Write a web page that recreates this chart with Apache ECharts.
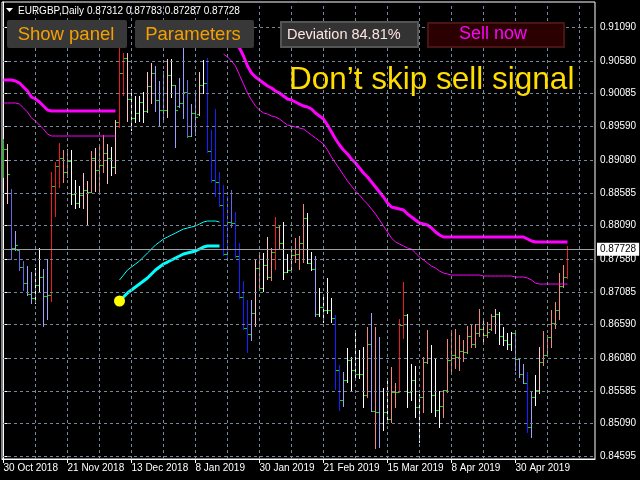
<!DOCTYPE html>
<html><head><meta charset="utf-8">
<script src="https://cdn.jsdelivr.net/npm/echarts@6/dist/echarts.min.js"></script>
<style>html,body{margin:0;padding:0;background:#000;}#c{width:640px;height:480px;}</style>
</head><body><div id="c"></div>
<script>
const symbolName = 'EURGBP,Daily';
const lastOHLC = [0.87312, 0.87783, 0.87287, 0.87728];
const lastPrice = 0.87728;
const dateLabels = ['30 Oct 2018','21 Nov 2018','13 Dec 2018','8 Jan 2019','30 Jan 2019','21 Feb 2019','15 Mar 2019','8 Apr 2019','30 Apr 2019'];
const dateLabelBars = [0,16,32,48,64,80,96,112,128];
const gridBars = [8,16,24,32,40,48,56,64,72,80,88,96,104,112,120,128,136,144];
const priceTicks = [0.91090,0.90580,0.90085,0.89590,0.89080,0.88585,0.88090,0.87580,0.87085,0.86590,0.86080,0.85585,0.85090,0.84595];

const barColors = [
'G','P','M','L','M','M','L','L','W','W',
'L','L','R','R','R','S','S','W','W','W',
'P','P','S','P','S','S','P','W','P','R',
'R','P','W','W','W','W','P','P','L','L',
'L','P','W','L','L','L','M','L','L','P',
'W','B','B','B','B','B','B','M','B','B',
'B','B','L','P','S','W','P','S','R','S',
'W','W','P','S','S','S','W','W','L','W',
'W','W','W','B','B','L','W','W','W','W',
'W','S','L','S','L','W','W','S','S','R',
'R','W','W','W','W','S','S','W','W','W',
'S','S','S','S','S','S','S','S','S','S',
'P','S','S','P','W','W','W','W','L','L',
'L','B','L','W','P','S','S','S','S','S',
'S','R'];

const openPrices = [
0.89100,0.89247,0.88581,0.87748,0.87718,0.87460,0.87219,0.87051,0.86991,0.87188,
0.87309,0.87021,0.87036,0.88687,0.88990,0.89111,0.88899,0.89066,0.88566,0.88430,
0.88551,0.88627,0.88596,0.89111,0.88929,0.89005,0.89187,0.89111,0.88975,0.89656,
0.90398,0.90625,0.90004,0.89716,0.89792,0.89959,0.89823,0.90201,0.90398,0.89989,
0.89838,0.89838,0.90367,0.90216,0.89900,0.89944,0.90110,0.89444,0.89792,0.89780,
0.90216,0.90246,0.89217,0.88778,0.88748,0.88399,0.87658,0.88142,0.88127,0.87627,
0.87006,0.86537,0.86446,0.86764,0.87445,0.87142,0.87491,0.87309,0.87688,0.88066,
0.87824,0.87385,0.87415,0.87642,0.87658,0.87824,0.88203,0.87521,0.87430,0.86749,
0.86855,0.86810,0.86810,0.86688,0.85901,0.85447,0.85750,0.86053,0.85901,0.85840,
0.85840,0.85522,0.86295,0.85280,0.85265,0.85099,0.85265,0.85159,0.85568,0.85568,
0.86582,0.86734,0.85568,0.85750,0.85341,0.85493,0.86023,0.86083,0.85522,0.85296,
0.85356,0.85598,0.86053,0.86128,0.86098,0.86189,0.86174,0.86416,0.86295,0.86461,
0.86522,0.86431,0.86520,0.86719,0.86749,0.86416,0.86355,0.86295,0.86461,0.86068,
0.85840,0.85704,0.85038,0.85493,0.85598,0.86023,0.86128,0.86401,0.86613,0.86810,
0.87173,0.87312];

const highPrices = [
0.89398,0.89322,0.88642,0.88006,0.87733,0.87552,0.87476,0.87385,0.87445,0.87748,
0.87430,0.87582,0.88899,0.89051,0.89338,0.89232,0.89247,0.89232,0.88778,0.88687,
0.88884,0.88763,0.89217,0.89262,0.89277,0.89459,0.89322,0.89277,0.89686,0.90821,
0.90701,0.90701,0.90156,0.90050,0.90050,0.90110,0.90413,0.90549,0.90504,0.90277,
0.90428,0.90610,0.90610,0.90216,0.90322,0.90791,0.90292,0.89928,0.90080,0.90413,
0.90595,0.90625,0.89535,0.89853,0.88899,0.88703,0.88536,0.88627,0.88293,0.87824,
0.87249,0.86961,0.86961,0.87567,0.87658,0.87673,0.87915,0.87748,0.88218,0.88097,
0.88142,0.87658,0.87763,0.87900,0.87930,0.88414,0.88278,0.87688,0.87627,0.87142,
0.87036,0.87294,0.86991,0.86734,0.85977,0.85871,0.86234,0.86098,0.86461,0.86204,
0.86249,0.86552,0.86764,0.86552,0.86401,0.85629,0.85750,0.85947,0.85704,0.86673,
0.87233,0.86749,0.85992,0.85962,0.85538,0.86098,0.86507,0.86280,0.86083,0.85583,
0.85598,0.86370,0.86461,0.86522,0.86431,0.86355,0.86567,0.86582,0.86598,0.86825,
0.86688,0.86628,0.86749,0.86825,0.86779,0.86552,0.86461,0.86477,0.86507,0.86068,
0.85992,0.85871,0.85568,0.85826,0.86249,0.86492,0.86431,0.86810,0.86931,0.87370,
0.87491,0.87783];

const lowPrices = [
0.88823,0.88430,0.87582,0.87718,0.87415,0.87112,0.87036,0.86916,0.86916,0.87082,
0.86567,0.86673,0.86946,0.88233,0.88672,0.88748,0.88823,0.88414,0.88354,0.88369,
0.88354,0.88097,0.88596,0.88612,0.88596,0.88899,0.88733,0.88853,0.88884,0.89580,
0.90064,0.89671,0.89535,0.89656,0.89671,0.89656,0.89807,0.89944,0.89823,0.89610,
0.89656,0.89732,0.90034,0.89277,0.89883,0.89716,0.89429,0.89444,0.89459,0.89762,
0.90095,0.89202,0.88748,0.88536,0.88384,0.87642,0.87567,0.88066,0.87612,0.86991,
0.86522,0.86173,0.86355,0.86567,0.87127,0.87097,0.87279,0.87264,0.87430,0.87733,
0.87279,0.87385,0.87415,0.87536,0.87430,0.87536,0.87521,0.87415,0.86719,0.86719,
0.86628,0.86764,0.86628,0.85613,0.85296,0.85356,0.85719,0.85583,0.85795,0.85780,
0.85341,0.85492,0.85280,0.84720,0.84735,0.84993,0.85144,0.85114,0.85341,0.85568,
0.86386,0.85341,0.85447,0.85190,0.84811,0.85265,0.86007,0.85265,0.85205,0.85038,
0.85190,0.85568,0.85840,0.85931,0.85901,0.86037,0.86158,0.86249,0.86249,0.86416,
0.86340,0.86401,0.86507,0.86461,0.86295,0.86280,0.86219,0.86204,0.85901,0.85795,
0.85704,0.84962,0.84887,0.85372,0.85553,0.85977,0.86128,0.86249,0.86537,0.86673,
0.87158,0.87287];

const closePrices = [
0.89247,0.88868,0.87748,0.87794,0.87460,0.87219,0.87051,0.86991,0.87188,0.87309,
0.87021,0.87036,0.88687,0.88990,0.89111,0.88899,0.89066,0.88566,0.88430,0.88551,
0.88627,0.88596,0.89111,0.88929,0.89005,0.89187,0.89111,0.88975,0.89656,0.90398,
0.90625,0.90004,0.89716,0.89792,0.89959,0.89823,0.90201,0.90398,0.89989,0.89838,
0.89838,0.90367,0.90216,0.89838,0.89944,0.90110,0.89444,0.89792,0.89732,0.90216,
0.90246,0.89217,0.88778,0.88748,0.88399,0.87658,0.88142,0.88127,0.87627,0.87006,
0.86537,0.86446,0.86764,0.87445,0.87142,0.87491,0.87309,0.87688,0.88066,0.87824,
0.87385,0.87415,0.87642,0.87658,0.87824,0.88203,0.87521,0.87430,0.86749,0.86855,
0.86810,0.86810,0.86688,0.85901,0.85447,0.85750,0.86053,0.85901,0.85840,0.85840,
0.85522,0.86295,0.85280,0.85265,0.85099,0.85265,0.85159,0.85568,0.85568,0.86582,
0.86734,0.85568,0.85750,0.85341,0.85493,0.86023,0.86083,0.85522,0.85296,0.85356,
0.85598,0.86053,0.86128,0.86098,0.86189,0.86174,0.86416,0.86295,0.86461,0.86522,
0.86431,0.86477,0.86719,0.86749,0.86416,0.86355,0.86295,0.86461,0.86068,0.85840,
0.85704,0.85038,0.85493,0.85598,0.86023,0.86128,0.86401,0.86613,0.86810,0.87173,
0.87312,0.87728];

const upperBand1Start = 0;
const upperBand1 = [0.90292,0.90292,0.90292,0.90277,0.90246,0.90186,0.90125,0.90034,0.90004,0.89959,
0.89898,0.89838,0.89823,0.89823,0.89823,0.89823,0.89823,0.89823,0.89823,0.89823,
0.89823,0.89823,0.89823,0.89823,0.89823,0.89823,0.89823,0.89823,0.89823];
const lowerBand1 = [0.89944,0.89944,0.89944,0.89944,0.89928,0.89868,0.89807,0.89716,0.89671,0.89610,
0.89550,0.89474,0.89444,0.89444,0.89444,0.89444,0.89444,0.89444,0.89444,0.89444,
0.89444,0.89444,0.89444,0.89444,0.89444,0.89444,0.89444,0.89444,0.89444];

const upperBand2Start = 55;
const upperBand2 = [
0.91049,0.90988,0.90913,0.90837,0.90776,0.90655,0.90504,0.90398,0.90337,0.90292,
0.90246,0.90201,0.90171,0.90125,0.90095,0.90050,0.90004,0.89989,0.89959,0.89928,
0.89898,0.89883,0.89853,0.89792,0.89747,0.89701,0.89610,0.89505,0.89399,0.89308,
0.89232,0.89172,0.89096,0.89035,0.88960,0.88884,0.88823,0.88748,0.88672,0.88596,
0.88521,0.88430,0.88369,0.88354,0.88339,0.88324,0.88263,0.88218,0.88172,0.88127,
0.88112,0.88097,0.88051,0.87990,0.87945,
0.87915,0.87915,0.87915,0.87915,0.87915,0.87915,0.87915,0.87915,0.87915,0.87915,
0.87915,0.87915,0.87915,0.87915,0.87915,0.87915,0.87915,0.87915,0.87915,0.87915,0.87915,
0.87885,0.87854,
0.87839,0.87839,0.87839,0.87839,0.87839,0.87839,0.87839,0.87839,0.87839];
const lowerBand2 = [
0.90685,0.90640,0.90579,0.90504,0.90367,0.90231,0.90095,0.89989,0.89898,0.89838,
0.89792,0.89777,0.89747,0.89732,0.89701,0.89656,0.89610,0.89595,0.89580,0.89565,
0.89550,0.89505,0.89459,0.89414,0.89368,0.89323,0.89232,0.89126,0.89035,0.88944,
0.88854,0.88763,0.88687,0.88611,0.88551,0.88475,0.88414,0.88339,0.88263,0.88172,
0.88081,0.87990,0.87900,0.87839,0.87809,0.87779,0.87748,0.87733,0.87673,0.87612,
0.87567,0.87521,0.87476,0.87445,0.87400,0.87370,0.87355,
0.87339,0.87339,0.87339,0.87339,0.87339,0.87339,0.87339,0.87339,
0.87324,0.87324,0.87324,0.87324,0.87324,0.87324,0.87324,0.87324,
0.87309,0.87309,0.87309,0.87294,0.87264,0.87218,
0.87203,0.87203,0.87203,0.87203,0.87203,0.87203,0.87203,0.87203];

const signalStart = 29;
const signalThick = [0.86946,0.87006,0.87067,0.87112,0.87158,0.87203,0.87249,0.87294,0.87355,0.87415,
0.87461,0.87506,0.87536,0.87567,0.87597,0.87627,0.87658,0.87673,0.87688,0.87703,
0.87733,0.87763,0.87779,0.87779,0.87779,0.87779];
const signalThin = [0.87264,0.87339,0.87415,0.87461,0.87506,0.87551,0.87612,0.87673,0.87733,0.87794,
0.87839,0.87885,0.87915,0.87945,0.87975,0.88006,0.88036,0.88051,0.88066,0.88081,
0.88112,0.88142,0.88157,0.88157,0.88157,0.88142];
const signalDotBar = 29;
const signalDotPrice = 0.86946;

const deviationText = 'Deviation 84.81%';
const signalText = 'Don\u2019t skip sell signal';

const colorMap = {G:'#18d018', R:'#ee1c1c', S:'#f4887c', P:'#ffc4c4', W:'#ffffff', L:'#a0a0ff', M:'#6464ec', B:'#1420ff'};
const FONT = 'Liberation Sans';

const ohlcItems = openPrices.map((o, i) => ({
  value: [i, o, highPrices[i], lowPrices[i], closePrices[i]],
  itemStyle: {color: colorMap[barColors[i]]}
}));
const seg = (start, arr) => arr.map((v, k) => [start + k, v]);

const chart = echarts.init(document.getElementById('c'), null, {renderer: 'canvas'});

const gridLineStyle = {color: '#778899', type: [3, 3], width: 1};

const option = {
  backgroundColor: '#000000',
  animation: false,
  grid: {left: 2, top: 2, width: 593, height: 457, show: true, borderColor: '#ffffff', borderWidth: 1, backgroundColor: '#000000'},
  xAxis: {
    type: 'value', min: -0.375, max: 147.875,
    axisLine: {show: true, lineStyle: {color: '#ffffff'}},
    axisTick: {show: true, length: 4, lineStyle: {color: '#ffffff'}, customValues: dateLabelBars},
    axisLabel: {show: true, customValues: dateLabelBars, color: '#ffffff', fontSize: 10, fontFamily: FONT, align: 'left', margin: 4,
      formatter: v => { const k = dateLabelBars.indexOf(Math.round(v)); return k >= 0 ? dateLabels[k] : ''; }},
    splitLine: {show: false}
  },
  yAxis: {
    type: 'value', position: 'right', min: 0.84554, max: 0.91473, scale: true,
    axisLine: {show: true, lineStyle: {color: '#ffffff'}},
    axisTick: {show: true, length: 4, lineStyle: {color: '#ffffff'}, customValues: priceTicks},
    axisLabel: {show: true, customValues: priceTicks, color: '#ffffff', fontSize: 10, fontFamily: FONT, margin: 5,
      formatter: v => v.toFixed(5)},
    splitLine: {show: false}
  },
  series: [
    {
      type: 'line', name: 'grid', z: 1, data: [[0, closePrices[0]]], showSymbol: false, symbol: 'none',
      lineStyle: {opacity: 0}, silent: true,
      markLine: {silent: true, symbol: 'none', animation: false, precision: 6, label: {show: false}, lineStyle: gridLineStyle,
        data: priceTicks.map(v => ({yAxis: v})).concat(gridBars.map(b => ({xAxis: b})))}
    },
    {
      type: 'line', name: 'price', z: 2, data: [[0, lastPrice]], showSymbol: false, symbol: 'none',
      lineStyle: {opacity: 0}, silent: true,
      markLine: {silent: true, symbol: 'none', animation: false, precision: 6,
        lineStyle: {color: '#9aa0a6', type: 'solid', width: 1},
        label: {show: true, position: 'end', distance: 2, formatter: () => lastPrice.toFixed(5), color: '#000000',
          backgroundColor: '#ffffff', padding: [2, 3, 1, 3], fontSize: 10, fontFamily: FONT},
        data: [{yAxis: lastPrice}]}
    },
    {
      type: 'custom', name: 'bars', z: 3, data: ohlcItems, encode: {x: 0, y: [1, 2, 3, 4]}, silent: true,
      renderItem: function (params, api) {
        const i = api.value(0);
        const pH = api.coord([i, api.value(2)]);
        const pL = api.coord([i, api.value(3)]);
        const pO = api.coord([i, api.value(1)]);
        const pC = api.coord([i, api.value(4)]);
        const x = Math.floor(pH[0]);
        const col = api.visual('color');
        const yH = Math.round(pH[1]), yL = Math.round(pL[1]);
        const yo = Math.round(pO[1]), yc = Math.round(pC[1]);
        return {type: 'group', children: [
          {type: 'rect', shape: {x: x, y: yH, width: 1, height: Math.max(1, yL - yH + 1)}, style: {fill: col}},
          {type: 'rect', shape: {x: x - 2, y: yo, width: 2, height: 1}, style: {fill: '#00e000'}},
          {type: 'rect', shape: {x: x + 1, y: yc, width: 2, height: 1}, style: {fill: '#00e000'}}
        ]};
      }
    },
    {type: 'line', name: 'upper1', z: 4, data: seg(upperBand1Start, upperBand1), showSymbol: false, symbol: 'none', lineStyle: {color: '#ff00ff', width: 3}},
    {type: 'line', name: 'lower1', z: 4, data: seg(upperBand1Start, lowerBand1), showSymbol: false, symbol: 'none', lineStyle: {color: '#ff00ff', width: 1}},
    {type: 'line', name: 'upper2', z: 4, data: seg(upperBand2Start, upperBand2), showSymbol: false, symbol: 'none', lineStyle: {color: '#ff00ff', width: 3}},
    {type: 'line', name: 'lower2', z: 4, data: seg(upperBand2Start, lowerBand2), showSymbol: false, symbol: 'none', lineStyle: {color: '#ff00ff', width: 1}},
    {type: 'line', name: 'sigThick', z: 4, data: seg(signalStart, signalThick), showSymbol: false, symbol: 'none', lineStyle: {color: '#00ffff', width: 3}},
    {type: 'line', name: 'sigThin', z: 4, data: seg(signalStart, signalThin), showSymbol: false, symbol: 'none', lineStyle: {color: '#00ffff', width: 1}},
    {type: 'scatter', name: 'dot', z: 5, data: [[signalDotBar, signalDotPrice]], symbolSize: 11, itemStyle: {color: '#ffff00', opacity: 1}}
  ],
  graphic: [
    {type: 'polygon', z: 100, shape: {points: [[6, 8], [13, 8], [9.5, 12]]}, style: {fill: '#ffffff'}},
    {type: 'text', z: 100, x: 18, y: 11, style: {text: symbolName, fill: '#ffffff', font: '10px ' + FONT, verticalAlign: 'middle'}},
    {type: 'text', z: 100, x: 87, y: 11, style: {text: lastOHLC.map(v => v.toFixed(5)).join(' '), fill: '#ffffff', font: '10px ' + FONT, verticalAlign: 'middle'}},
    {type: 'rect', z: 100, shape: {x: 7, y: 20, width: 120, height: 28, r: 2}, style: {fill: '#383838'}},
    {type: 'text', z: 101, x: 66, y: 34.5, style: {text: 'Show panel', fill: '#f5a000', font: '18.5px ' + FONT, align: 'center', verticalAlign: 'middle'}},
    {type: 'rect', z: 100, shape: {x: 135, y: 20, width: 119, height: 28, r: 2}, style: {fill: '#383838'}},
    {type: 'text', z: 101, x: 193, y: 34.5, style: {text: 'Parameters', fill: '#f5a000', font: '18.5px ' + FONT, align: 'center', verticalAlign: 'middle'}},
    {type: 'rect', z: 100, shape: {x: 281, y: 22, width: 137, height: 25}, style: {fill: '#333333', stroke: '#555555', lineWidth: 2}},
    {type: 'text', z: 101, x: 287, y: 34.5, style: {text: deviationText, fill: '#ffe4e1', font: '14.5px ' + FONT, verticalAlign: 'middle'}},
    {type: 'rect', z: 100, shape: {x: 428, y: 23, width: 136, height: 24}, style: {fill: '#2a0000', stroke: '#4a1414', lineWidth: 2}},
    {type: 'text', z: 101, x: 493, y: 34.5, style: {text: 'Sell now', fill: '#ff00ff', font: '18px ' + FONT, align: 'center', verticalAlign: 'middle'}},
    {type: 'text', z: 101, x: 289, y: 80, style: {text: signalText, fill: '#ffdd00', font: '31.5px ' + FONT, verticalAlign: 'middle'}}
  ]
};
chart.setOption(option);
</script></body></html>
